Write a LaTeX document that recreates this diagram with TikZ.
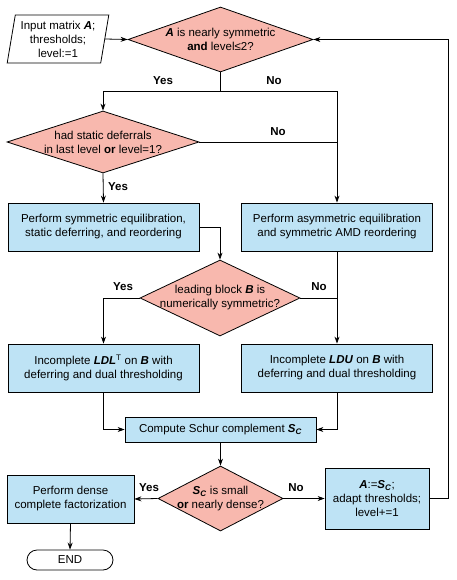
\documentclass[tikz,border=0pt]{standalone}
\usepackage{fontspec}
\setmainfont{Liberation Sans}
\usetikzlibrary{shapes.geometric,arrows.meta}
\definecolor{decfill}{HTML}{F8B8AE}
\definecolor{boxfill}{HTML}{BEE3F5}
\newcommand{\bi}[1]{\textbf{\textit{#1}}}
\newcommand{\Sc}{\bi{S}\textsubscript{\bi{C}}}
\begin{document}
\begin{tikzpicture}[x=1pt,y=-1pt,
  every node/.style={font=\fontsize{11.5}{14}\selectfont},
  proc/.style={draw,fill=boxfill,line width=0.8pt,inner sep=0pt,align=center,minimum width=191pt,minimum height=48pt},
  dec/.style={draw,fill=decfill,diamond,line width=0.8pt,inner sep=0pt},
  dectext/.style={align=center,inner sep=0pt},
  io/.style={draw,trapezium,trapezium left angle=79,trapezium right angle=101,trapezium stretches=true,line width=0.8pt,inner sep=0pt,align=center,minimum width=102pt,minimum height=48pt},
  term/.style={draw,rounded corners=10pt,line width=0.8pt,minimum width=86pt,minimum height=20pt,inner sep=0pt},
  ans/.style={font=\fontsize{11.5}{14}\selectfont\bfseries},
  arr/.style={-{Stealth[length=7pt,width=5pt]},line width=0.8pt},
  con/.style={line width=0.8pt}]

\useasboundingbox (0,0) rectangle (457,580);

\node[io] (input) at (58,39) {Input matrix \bi{A};\\thresholds;\\level:=1};
\node[dec,minimum width=185pt,minimum height=65pt] (symm) at (220.5,39.5) {};
\node[dectext] (symm-t) at (symm) {\bi{A} is nearly symmetric\\\textbf{and} level≤2?};
\node[dec,minimum width=192pt,minimum height=62pt] (defer) at (103,142) {};
\node[dectext] (defer-t) at (defer) {had static deferrals\\in last level \textbf{or} level=1?};
\node[proc] (symeq) at (103.5,227) {Perform symmetric equilibration,\\static deferring, and reordering};
\node[proc] (asymeq) at (337,227) {Perform asymmetric equilibration\\and symmetric AMD reordering};
\node[dec,minimum width=160pt,minimum height=76pt] (lead) at (220,298) {};
\node[dectext] (lead-t) at (lead) {leading block \bi{B} is\\numerically symmetric?};
\node[proc] (ldlt) at (103.5,368) {Incomplete \bi{LDL}\textsuperscript{T} on \bi{B} with\\deferring and dual thresholding};
\node[proc] (ldu) at (337,368) {Incomplete \bi{LDU} on \bi{B} with\\deferring and dual thresholding};
\node[proc,minimum height=25pt] (schur) at (220.5,429.5) {Compute Schur complement \Sc};
\node[dec,minimum width=125pt,minimum height=65pt] (small) at (220.5,498.5) {};
\node[dectext] (small-t) at (small) {\Sc{} is small\\\textbf{or} nearly dense?};
\node[proc,minimum width=127pt] (dense) at (70.5,499) {Perform dense\\complete factorization};
\node[proc,minimum width=104pt,minimum height=61pt] (next) at (377,498.5) {\bi{A}:=\Sc;\\adapt thresholds;\\level+=1};
\node[term] (end) at (70,560) {END};

\coordinate (split) at (220.5,91);
\coordinate (back) at (448,39.5);

\draw[arr] (input.east) -- (symm.west);
\draw[con] (symm.south) -- (split);
\draw[arr] (split) -| (defer.north);
\draw[arr] (split) -| (asymeq.north);
\draw[con] (defer.east) -- (defer.east -| asymeq.north);
\draw[arr] (defer.south) -- (symeq.north);
\draw[arr] (symeq.east) -| (lead.north);
\draw[arr] (lead.west) -| (ldlt.north);
\draw[arr] (asymeq.south) -- (ldu.north);
\draw[con] (lead.east) -- (lead.east -| ldu.north);
\draw[arr] (ldlt.south) |- (schur.west);
\draw[arr] (ldu.south) |- (schur.east);
\draw[arr] (schur.south) -- (small.north);
\draw[arr] (small.west) -- (dense.east);
\draw[arr] (small.east) -- (next.west);
\draw[arr] (next.east) -| (back) -- (symm.east);
\draw[arr] (dense.south) -- (end.north);

\node[ans] (y1) at (163,81) {Yes};
\node[ans] (n1) at (274,81) {No};
\node[ans] (n2) at (278,132) {No};
\node[ans] (y2) at (118,187) {Yes};
\node[ans] (y3) at (123,287) {Yes};
\node[ans] (n3) at (319,287) {No};
\node[ans] (y4) at (149,488) {Yes};
\node[ans] (n4) at (296,488) {No};

\end{tikzpicture}
\end{document}
